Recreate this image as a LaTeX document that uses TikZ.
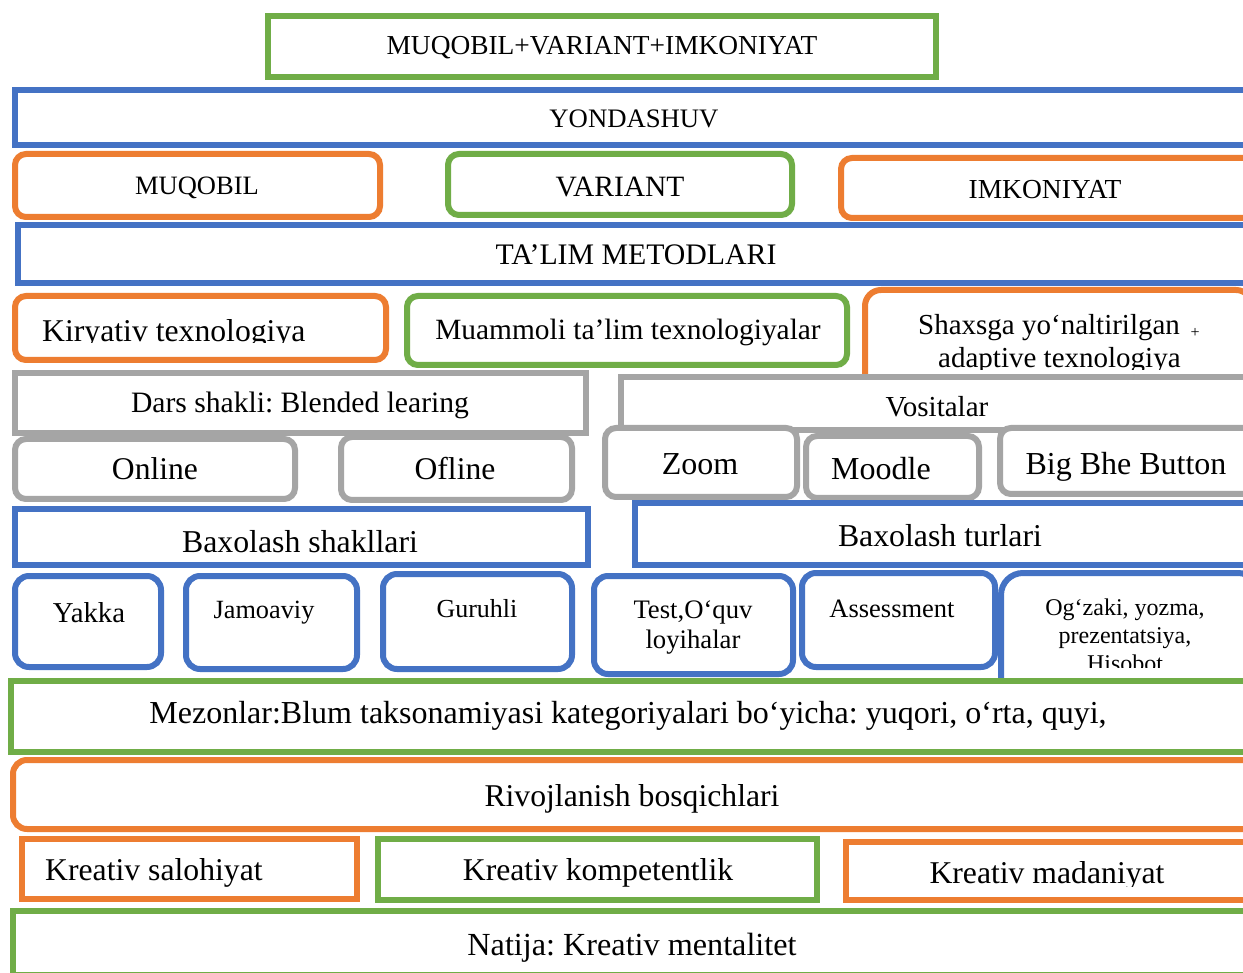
\documentclass[tikz,border=0pt]{standalone}
\usepackage{fontspec}
\setmainfont{Liberation Serif}
\usetikzlibrary{fit}
\definecolor{cor}{HTML}{ED7D31}
\definecolor{cbl}{HTML}{4472C4}
\definecolor{cgr}{HTML}{70AD47}
\definecolor{cgy}{HTML}{A5A5A5}
\newcommand{\myfs}[1]{\fontsize{#1}{#1}\selectfont}
\frenchspacing
\begin{document}
\begin{tikzpicture}[x=1pt,y=-1pt,
  bx/.style={line width=6pt, fill=white, inner sep=0pt, outer sep=0pt, rectangle},
  sq/.style={bx},
  rd/.style={bx, rounded corners=#1},
  rd/.default=11pt,
  txt/.style={inner sep=0pt, anchor=base},
  txtl/.style={inner sep=0pt, anchor=base west}]
\useasboundingbox (0,0) rectangle (1243,973);
\fill[white] (0,0) rectangle (1243,973);
\clip (0,0) rectangle (1243,973);

% row 1
\node[sq, draw=cgr, fit={(268,16) (936,77)}] (top) {};
\node[txt, font=\myfs{27.4}] (top-t) at (602,55) {MUQOBIL+VARIANT+IMKONIYAT};
% row 2
\node[sq, draw=cbl, fit={(15,90) (1260,145)}] (yond) {};
\node[txt, font=\myfs{26.7}] (yond-t) at (634,128) {YONDASHUV};
% row 3
\node[rd, draw=cor, fit={(15,154) (380,217)}] (muq) {};
\node[txt, font=\myfs{26.5}] (muq-t) at (197,195) {MUQOBIL};
\node[rd, draw=cgr, fit={(448,154) (792,215)}] (var) {};
\node[txt, font=\myfs{29.5}] (var-t) at (620,197) {VARIANT};
\node[rd, draw=cor, fit={(841,158) (1260,218)}] (imk) {};
\node[txt, font=\myfs{27.5}] (imk-t) at (1045,199) {IMKONIYAT};
% row 4
\node[sq, draw=cbl, fit={(18,225) (1260,283)}] (talim) {};
\node[txt, font=\myfs{29.8}] (talim-t) at (636,265) {TA’LIM METODLARI};
% row 5
\node[rd, draw=cor, fit={(15,296) (386,360)}] (kir) {};
\begin{scope}
\clip (15,296) rectangle (386,343);
\node[txtl, font=\myfs{31.7}] (kir-t) at (42,342) {Kiryativ texnologiya};
\end{scope}
\node[rd, draw=cgr, fit={(407,296) (847,365)}] (muam) {};
\node[txt, font=\myfs{29.4}] (muam-t) at (628,340) {Muammoli ta’lim texnologiyalar};
\node[rd=16pt, draw=cor, fit={(865,290) (1252,420)}] (shax) {};
\node[txtl, font=\myfs{29}] (shax-t1) at (918,335) {Shaxsga yo‘naltirilgan};
\node[txt, font=\myfs{16}] (shax-plus) at (1195,338) {+};
\begin{scope}
\clip (868,293) rectangle (1260,369.5);
\node[txtl, font=\myfs{29}] (shax-t2) at (938,368) {adaptive texnologiya};
\end{scope}
% row 6
\node[sq, draw=cgy, fit={(15,373) (586,433)}] (dars) {};
\node[txt, font=\myfs{29.6}] (dars-t) at (300,413) {Dars shakli: Blended learing};
\node[sq, draw=cgy, fit={(621,377) (1260,430)}] (vos) {};
\node[txt, font=\myfs{29}] (vos-t) at (937,417) {Vositalar};
% row 7
\node[rd, draw=cgy, fit={(15,439) (295,499)}] (online) {};
\node[txt, font=\myfs{31.6}] (online-t) at (155,480) {Online};
\node[rd, draw=cgy, fit={(341,437) (572,500)}] (ofline) {};
\node[txt, font=\myfs{31.6}] (ofline-t) at (455,480) {Ofline};
\node[rd, draw=cgy, fit={(605,428) (797,497)}] (zoom) {};
\node[txt, font=\myfs{32}] (zoom-t) at (700,475) {Zoom};
\node[rd, draw=cgy, fit={(806,436) (979,498)}] (moodle) {};
\node[txt, font=\myfs{32}] (moodle-t) at (881,479) {Moodle};
\node[rd, draw=cgy, fit={(1000,428) (1260,494)}] (big) {};
\node[txt, font=\myfs{32}] (big-t) at (1126,475) {Big Bhe Button};
% row 8
\node[sq, draw=cbl, fit={(15,509) (588,565)}] (bsh) {};
\node[txt, font=\myfs{31.8}] (bsh-t) at (300,552) {Baxolash shakllari};
\node[sq, draw=cbl, fit={(635,503) (1260,565)}] (btu) {};
\node[txt, font=\myfs{31.8}] (btu-t) at (940,547) {Baxolash turlari};
% row 9
\node[rd=14pt, draw=cbl, fit={(15,576) (161,667)}] (yakka) {};
\node[txt, font=\myfs{28.8}] (yakka-t) at (89,622) {Yakka};
\node[rd=14pt, draw=cbl, fit={(186,576) (357,669)}] (jamo) {};
\node[txt, font=\myfs{26.3}] (jamo-t) at (264,618) {Jamoaviy};
\node[rd=14pt, draw=cbl, fit={(383,574) (572,669)}] (guru) {};
\node[txt, font=\myfs{26}] (guru-t) at (477,617) {Guruhli};
\node[rd=14pt, draw=cbl, fit={(594,576) (793,674)}] (test) {};
\node[txt, font=\myfs{26.7}] (test-t1) at (693,618) {Test,O‘quv};
\node[txt, font=\myfs{26.7}] (test-t2) at (693,648) {loyihalar};
\node[rd=14pt, draw=cbl, fit={(802,573) (995,667)}] (asse) {};
\node[txt, font=\myfs{26.5}] (asse-t) at (892,617) {Assessment};
\node[rd=22pt, draw=cbl, fit={(1001,573) (1260,700)}] (ogz) {};
\node[txt, font=\myfs{24}] (ogz-t1) at (1125,615) {Og‘zaki, yozma,};
\node[txt, font=\myfs{24}] (ogz-t2) at (1125,643) {prezentatsiya,};
\begin{scope}
\clip (1004,576) rectangle (1260,667.5);
\node[txt, font=\myfs{24}] (ogz-t3) at (1125,671) {Hisobot};
\end{scope}
% row 10
\node[sq, draw=cgr, fit={(11,681) (1245.5,752)}] (mez) {};
\node[txt, font=\myfs{32}] (mez-t) at (628,723) {Mezonlar:Blum taksonamiyasi kategoriyalari bo‘yicha: yuqori, o‘rta, quyi,};
% row 11
\node[rd=14pt, draw=cor, fit={(13,760) (1260,829)}] (riv) {};
\node[txt, font=\myfs{31.7}] (riv-t) at (632,806) {Rivojlanish bosqichlari};
% row 12
\node[sq, draw=cor, fit={(22,839) (357,899)}] (ksal) {};
\node[txtl, font=\myfs{31.7}] (ksal-t) at (45,880) {Kreativ salohiyat};
\node[sq, draw=cgr, fit={(378,839) (817,900)}] (kkom) {};
\node[txt, font=\myfs{31.7}] (kkom-t) at (598,880) {Kreativ kompetentlik};
\node[sq, draw=cor, fit={(846,842) (1260,900)}] (kmad) {};
\begin{scope}
\clip (849,845) rectangle (1260,886);
\node[txt, font=\myfs{31.7}] (kmad-t) at (1047,883) {Kreativ madaniyat};
\end{scope}
% row 13
\node[sq, draw=cgr, fit={(13,911) (1260,975)}] (nat) {};
\node[txt, font=\myfs{32.2}] (nat-t) at (632,955) {Natija: Kreativ mentalitet};
\end{tikzpicture}
\end{document}
